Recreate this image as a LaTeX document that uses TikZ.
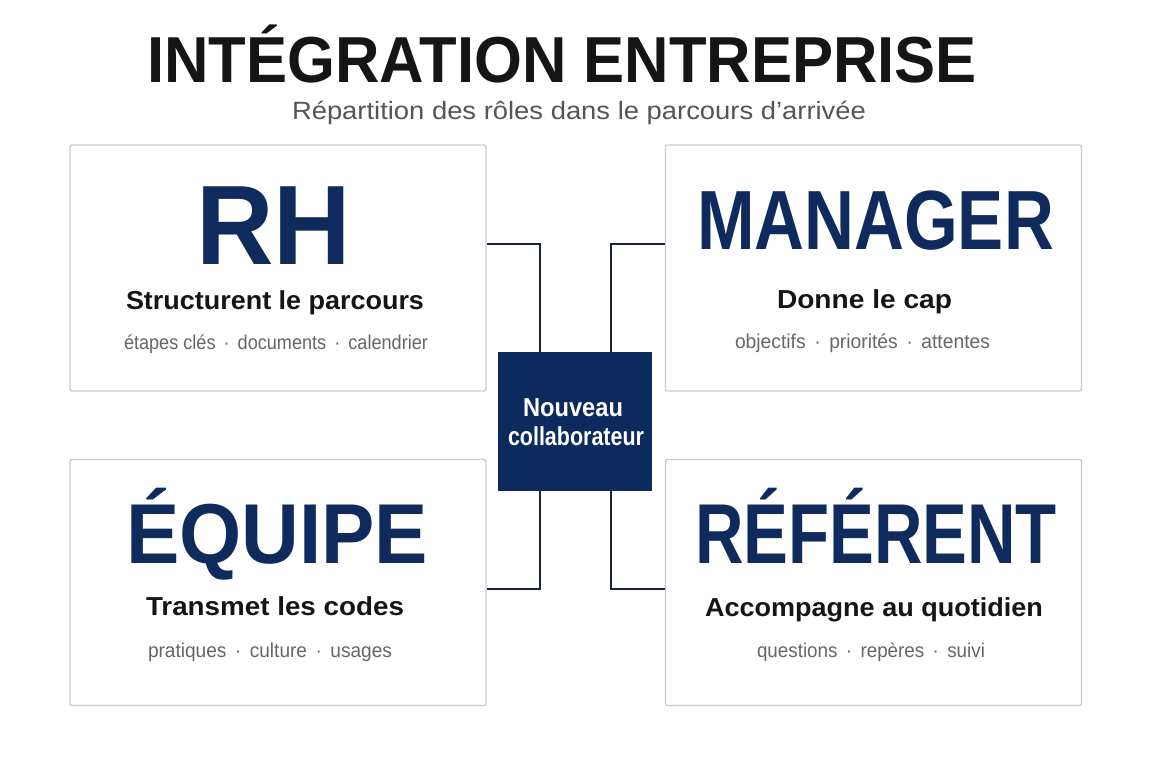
\documentclass[tikz,border=0pt]{standalone}
\usepackage{fontspec}
\setmainfont{Liberation Sans}
\usepackage{graphicx}
\definecolor{navy}{HTML}{0F2A5C}
\definecolor{navyfill}{HTML}{0C2A5E}
\definecolor{connc}{HTML}{1B2244}
\definecolor{ink}{HTML}{151515}
\definecolor{greytxt}{HTML}{666666}
\definecolor{subgrey}{HTML}{555555}
\definecolor{cardline}{HTML}{CBCBCB}
\newsavebox\fitbox
\newcommand\fitw[2]{\sbox\fitbox{#2}\pgfmathsetmacro\fitr{#1/\the\wd\fitbox}\scalebox{\fitr}[1]{\usebox\fitbox}}
\tikzset{
  card/.style={draw=cardline, line width=1.3pt, rounded corners=2pt, fill=white, minimum width=416pt, minimum height=246pt, inner sep=0pt},
  txt/.style={anchor=base, inner sep=0pt},
  conn/.style={draw=connc, line width=2pt},
}
\begin{document}
\begin{tikzpicture}[x=1pt,y=-1pt]
\useasboundingbox (0,0) rectangle (1152,768);
\fill[white] (0,0) rectangle (1152,768);
% title
\node[txt, text=ink] (title) at (562,82) {\fontsize{65}{70}\selectfont\bfseries\fitw{830}{INTÉGRATION ENTREPRISE}};
\node[txt, text=subgrey] (subtitle) at (579,120) {\fontsize{25}{30}\selectfont\fitw{574}{Répartition des rôles dans le parcours d’arrivée}};
% cards
\node[card] (rh) at (278,268) {};
\node[card] (mg) at (873.5,268) {};
\node[card] (eq) at (278,582.5) {};
\node[card] (rf) at (873.5,582.5) {};
% centre
\node[fill=navyfill, minimum width=154pt, minimum height=139pt, inner sep=0pt] (nc) at (575,421.5) {};
\node[txt, text=white] (nc1) at (573,416.5) {\fontsize{26}{30}\selectfont\bfseries\fitw{100}{Nouveau}};
\node[txt, text=white] (nc2) at (576,445) {\fontsize{26}{30}\selectfont\bfseries\fitw{136}{collaborateur}};
% connectors
\coordinate (ct) at (0,244);
\coordinate (cb) at (0,589);
\draw[conn] (rh.east |- ct) -| ([xshift=-35pt]nc.north);
\draw[conn] (mg.west |- ct) -| ([xshift=36pt]nc.north);
\draw[conn] (eq.east |- cb) -| ([xshift=-35pt]nc.south);
\draw[conn] (rf.west |- cb) -| ([xshift=36pt]nc.south);
% RH
\node[txt, text=navy] (rht) at (273.5,264) {\fontsize{113}{120}\selectfont\bfseries\fitw{155}{RH}};
\node[txt, text=ink] (rhs) at (275,309.5) {\fontsize{26}{30}\selectfont\bfseries\fitw{298}{Structurent le parcours}};
\node[txt, text=greytxt] (rhd) at (276,349) {\fontsize{20}{24}\selectfont\fitw{304}{étapes clés \,·\, documents \,·\, calendrier}};
% MANAGER
\node[txt, text=navy] (mgt) at (875.5,249.5) {\fontsize{84}{90}\selectfont\bfseries\fitw{357}{MANAGER}};
\node[txt, text=ink] (mgs) at (864.5,308) {\fontsize{26}{30}\selectfont\bfseries\fitw{175}{Donne le cap}};
\node[txt, text=greytxt] (mgd) at (862.5,348.5) {\fontsize{20}{24}\selectfont\fitw{255}{objectifs \,·\, priorités \,·\, attentes}};
% EQUIPE
\node[txt, text=navy] (eqt) at (277,563) {\fontsize{85}{90}\selectfont\bfseries\fitw{302}{ÉQUIPE}};
\node[txt, text=ink] (eqs) at (275,615) {\fontsize{26}{30}\selectfont\bfseries\fitw{258}{Transmet les codes}};
\node[txt, text=greytxt] (eqd) at (270,657.5) {\fontsize{20}{24}\selectfont\fitw{244}{pratiques \,·\, culture \,·\, usages}};
% REFERENT
\node[txt, text=navy] (rft) at (876,563) {\fontsize{85}{90}\selectfont\bfseries\fitw{362}{RÉFÉRENT}};
\node[txt, text=ink] (rfs) at (874,616) {\fontsize{26}{30}\selectfont\bfseries\fitw{338}{Accompagne au quotidien}};
\node[txt, text=greytxt] (rfd) at (871,657.5) {\fontsize{20}{24}\selectfont\fitw{228}{questions \,·\, repères \,·\, suivi}};
\end{tikzpicture}
\end{document}
